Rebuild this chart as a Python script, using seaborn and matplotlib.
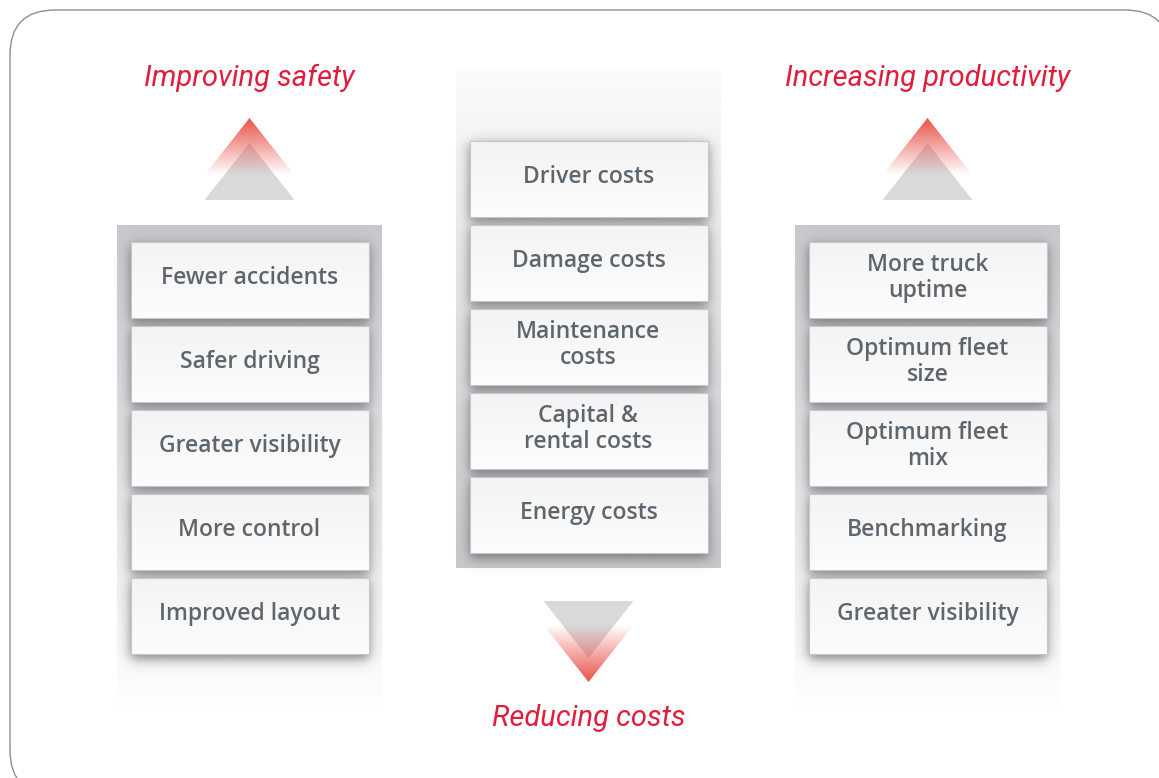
import numpy as np
import matplotlib.pyplot as plt
import seaborn as sns
from matplotlib.patches import FancyBboxPatch, Rectangle, Polygon
from matplotlib.colors import to_rgb

sns.set_style("white")
plt.rcParams['font.family'] = ['Roboto', 'Liberation Sans', 'DejaVu Sans']

# diagram content
columns = ["safety", "costs", "productivity"]
titles = ["Improving safety", "Reducing costs", "Increasing productivity"]
safety_items = ["Fewer accidents", "Safer driving", "Greater visibility",
                "More control", "Improved layout"]
cost_items = ["Driver costs", "Damage costs", "Maintenance\ncosts",
              "Capital &\nrental costs", "Energy costs"]
productivity_items = ["More truck\nuptime", "Optimum fleet\nsize", "Optimum fleet\nmix",
                      "Benchmarking", "Greater visibility"]
items = [safety_items, cost_items, productivity_items]
arrow_dir = ["up", "down", "up"]

RED = "#e11d3c"
TEXT = "#5e666d"
BOX_RED = to_rgb("#e8483f")
GREY_TRI = "#d8d9db"
SHADOW = to_rgb("#4a4d52")

W, H = 1159, 778
fig = plt.figure(figsize=(W / 100, H / 100), dpi=100)
ax = fig.add_axes([0, 0, 1, 1])
ax.set_xlim(0, W)
ax.set_ylim(H, 0)
ax.axis("off")

# outer rounded frame
frame = FancyBboxPatch((10, 10), 1160, 785, boxstyle="round,pad=0,rounding_size=45",
                       fc="white", ec="#8e8e8e", lw=1.0, zorder=0)
ax.add_patch(frame)


def vgradient(x0, x1, y0, y1, top, bottom, z, clip=None):
    n = 256
    t = np.linspace(0, 1, n)[:, None]
    top = np.array(top)
    bottom = np.array(bottom)
    img = (top[None, :] * (1 - t) + bottom[None, :] * t)[:, None, :]
    im = ax.imshow(img, extent=(x0, x1, y1, y0), origin="upper", aspect="auto",
                   interpolation="bilinear", zorder=z)
    if clip is not None:
        im.set_clip_path(clip)
    return im


def soft_shadow(x0, x1, y0, y1, blur, strength, z):
    # blurred rectangle drawn as an RGBA image
    pad = blur * 4
    xs = np.linspace(x0 - pad, x1 + pad, 160)
    ys = np.linspace(y0 - pad, y1 + pad, 160)
    sig = lambda v: 1 / (1 + np.exp(-v))
    ax_ = sig((xs - x0) / blur) * sig((x1 - xs) / blur)
    ay_ = sig((ys - y0) / blur) * sig((y1 - ys) / blur)
    alpha = strength * ay_[:, None] * ax_[None, :]
    img = np.zeros((len(ys), len(xs), 4))
    img[..., :3] = SHADOW
    img[..., 3] = alpha
    ax.imshow(img, extent=(x0 - pad, x1 + pad, y1 + pad, y0 - pad), origin="upper",
              aspect="auto", interpolation="bilinear", zorder=z)


def triangle(cx, y_apex, y_base, half, direction):
    # gray triangle behind, red faded triangle in front
    off = 25 if direction == "up" else -24
    gp = Polygon([(cx, y_apex + off), (cx - half, y_base + off), (cx + half, y_base + off)],
                 closed=True, fc=GREY_TRI, ec="none", zorder=2)
    ax.add_patch(gp)
    rp = Polygon([(cx, y_apex), (cx - half, y_base), (cx + half, y_base)],
                 closed=True, fc="none", ec="none", zorder=3)
    ax.add_patch(rp)
    y_lo, y_hi = min(y_apex, y_base), max(y_apex, y_base)
    if direction == "up":
        vgradient(cx - half, cx + half, y_lo, y_hi, (*BOX_RED, 0.95), (*BOX_RED, 0.0), 3, rp)
    else:
        vgradient(cx - half, cx + half, y_lo, y_hi, (*BOX_RED, 0.0), (*BOX_RED, 0.95), 3, rp)


col_x = [117, 456, 795]
panel_w = 265
box_w = 238
box_h = 76
pitch = 84

for ci, col in enumerate(columns):
    px = col_x[ci]
    cx = px + panel_w / 2
    if arrow_dir[ci] == "up":
        py0, py1 = 225, 712
        vgradient(px, px + panel_w, py0, py1, (0.78, 0.785, 0.795, 1), (1, 1, 1, 1), 1)
        box_top = 242
        ax.text(cx, 78, titles[ci], color=RED, fontsize=21, style="italic",
                fontweight="normal", ha="center", va="center", zorder=6)
        triangle(cx, 118, 175, 45, "up")
    else:
        py0, py1 = 70, 568
        vgradient(px, px + panel_w, py0, py1, (0.985, 0.985, 0.985, 1), (0.78, 0.785, 0.795, 1), 1)
        box_top = 141
        ax.text(cx, 718, titles[ci], color=RED, fontsize=21, style="italic",
                fontweight="normal", ha="center", va="center", zorder=6)
        triangle(cx, 682, 625, 45, "down")

    bx = px + (panel_w - box_w) / 2
    for k, label in enumerate(items[ci]):
        by = box_top + k * pitch
        soft_shadow(bx - 1, bx + box_w + 1, by + 3, by + box_h + 5, 3.5, 0.7, 4)
        box = Rectangle((bx, by), box_w, box_h, fc="none", ec="none", zorder=5)
        ax.add_patch(box)
        vgradient(bx, bx + box_w, by, by + box_h, (0.955, 0.955, 0.955, 1),
                  (0.99, 0.99, 0.99, 1), 5, box)
        ax.add_patch(Rectangle((bx, by), box_w, box_h, fc="none", ec="#c6c7c9", lw=0.8, zorder=5.5))
        ax.text(bx + box_w / 2, by + box_h / 2 - 2, label, color=TEXT, fontsize=16.5,
                family=["Open Sans", "Roboto"], fontweight="semibold",
                ha="center", va="center", linespacing=1.15, zorder=6)

fig.savefig("out.png", dpi=100)
